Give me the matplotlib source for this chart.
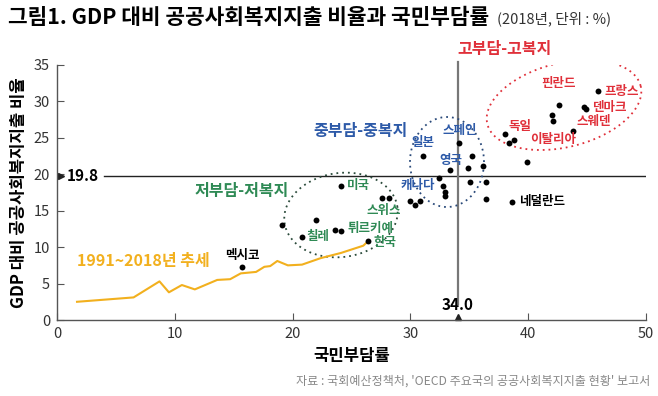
import numpy as np
import matplotlib
matplotlib.use("Agg")
import matplotlib.pyplot as plt

plt.rcParams['font.family'] = ['Noto Sans CJK KR', 'DejaVu Sans']

# 국민부담률(x), GDP 대비 공공사회복지지출(y)
burden = [45.9, 44.7, 44.9, 42.6, 42.0, 42.1, 43.8, 38.0, 38.4, 38.8, 39.9,
          34.1, 31.1, 35.2, 34.9, 36.2, 33.4, 32.4, 32.8, 32.9, 32.9, 35.1, 36.4, 36.4, 38.6,
          30.0, 30.4, 30.8,
          24.1, 27.6, 28.2, 19.1, 22.0, 20.8, 23.6, 24.1, 26.4, 15.7]
welfare = [31.4, 29.2, 29.0, 29.5, 28.1, 27.3, 25.9, 25.5, 24.3, 24.7, 21.7,
           24.3, 22.5, 22.5, 20.9, 21.1, 20.6, 19.5, 18.4, 17.6, 17.0, 18.9, 18.9, 16.6, 16.2,
           16.3, 15.8, 16.3,
           18.4, 16.7, 16.8, 13.0, 13.7, 11.4, 12.3, 12.2, 10.8, 7.3]

# 한국 1991~2018년 추세
trend_x = [1.7, 6.5, 7.7, 8.7, 9.5, 10.6, 11.7, 13.6, 14.7, 15.6, 16.9, 17.6, 18.1,
           18.7, 19.6, 20.8, 22.4, 24.1, 26.0, 26.4]
trend_y = [2.5, 3.1, 4.3, 5.3, 3.8, 4.8, 4.2, 5.5, 5.6, 6.4, 6.6, 7.3, 7.4,
           8.1, 7.5, 7.6, 8.5, 9.2, 10.2, 10.8]

oecd_welfare = 19.8
oecd_burden = 34.0

red = '#e0303a'
blue = '#2d5aa8'
green = '#2f8a55'
orange = '#f2b01e'

W, H = 658, 396
fig = plt.figure(figsize=(W / 100, H / 100), dpi=100)
ax_l, ax_r, ax_t, ax_b = 57, 646, 65, 320
ax = fig.add_axes([ax_l / W, 1 - ax_b / H, (ax_r - ax_l) / W, (ax_b - ax_t) / H])
ax.set_xlim(0, 50)
ax.set_ylim(0, 35)
px_x = (ax_r - ax_l) / 50
px_y = (ax_b - ax_t) / 35

for s in ['top', 'right']:
    ax.spines[s].set_visible(False)
for s in ['left', 'bottom']:
    ax.spines[s].set_color('#555555')
    ax.spines[s].set_linewidth(1)
ax.set_xticks(range(0, 51, 10))
ax.set_yticks(range(0, 36, 5))
ax.tick_params(direction='in', length=5, color='#555555', labelsize=10.5, labelcolor='#333333', pad=5)

# 기준선
ax.plot([4.0, 50], [oecd_welfare] * 2, color='#222222', lw=1, zorder=1)
ax.plot([oecd_burden] * 2, [2.2, 35.4], color='#777777', lw=1.6, zorder=1, clip_on=False)
ax.plot(0.35, oecd_welfare, marker='>', color='#222222', ms=4, clip_on=False)
ax.text(0.8, oecd_welfare, '19.8', fontsize=11, fontweight='bold', va='center', ha='left')
ax.plot(oecd_burden, 0.35, marker='^', color='#222222', ms=4, clip_on=False)
ax.text(oecd_burden, 0.9, '34.0', fontsize=11, fontweight='bold', va='bottom', ha='center')


def ellipse(cx, cy, a, b, ang, color):
    t = np.linspace(0, 2 * np.pi, 300)
    r = np.deg2rad(ang)
    dx = a * np.cos(t) * np.cos(r) - b * np.sin(t) * np.sin(r)
    dy = a * np.cos(t) * np.sin(r) + b * np.sin(t) * np.cos(r)
    xs = (cx + dx - ax_l) / px_x
    ys = (ax_b - (cy - dy)) / px_y
    ax.plot(xs, ys, color=color, lw=1.3, ls=(0, (1, 2.2)), zorder=1)


ellipse(564, 105, 79, 42, 14, red)
ellipse(447, 162, 37, 45, 0, '#2a4a7a')
ellipse(341, 215, 57, 42, 8, '#2a4a3a')

ax.plot(trend_x, trend_y, color=orange, lw=1.5, zorder=2)
ax.scatter(burden, welfare, s=18, color='black', zorder=3, linewidths=0)

labels = [
    ('프랑스', 46.5, 31.4, 'left', red), ('핀란드', 42.6, 32.4, 'center', red),
    ('덴마크', 45.4, 29.2, 'left', red), ('스웨덴', 44.1, 27.3, 'left', red),
    ('독일', 38.3, 26.5, 'left', red), ('이탈리아', 40.2, 24.8, 'left', red),
    ('일본', 31.1, 24.4, 'center', blue), ('스페인', 34.2, 26.0, 'center', blue),
    ('영국', 33.4, 21.9, 'center', blue), ('캐나다', 30.6, 18.5, 'center', blue),
    ('미국', 24.6, 18.4, 'left', green), ('스위스', 27.7, 15.0, 'center', green),
    ('칠레', 21.2, 11.4, 'left', green), ('튀르키예', 24.7, 12.5, 'left', green),
    ('한국', 26.9, 10.7, 'left', green),
    ('멕시코', 15.7, 8.9, 'center', 'black'), ('네덜란드', 39.2, 16.2, 'left', 'black'),
]
for txt, x, y, ha, c in labels:
    ax.text(x, y, txt, color=c, fontsize=9, fontweight='bold', ha=ha, va='center')

ax.text(34.0, 37.2, '고부담-고복지', color=red, fontsize=11.5, fontweight='bold', ha='left', va='center', clip_on=False)
ax.text(21.8, 25.9, '중부담-중복지', color=blue, fontsize=11.5, fontweight='bold', ha='left', va='center')
ax.text(11.7, 17.7, '저부담-저복지', color=green, fontsize=11.5, fontweight='bold', ha='left', va='center')
ax.text(1.7, 8.1, '1991~2018년 추세', color=orange, fontsize=11.5, fontweight='bold', ha='left', va='center')

ax.set_xlabel('국민부담률', fontsize=12, fontweight='bold', labelpad=4)
ax.set_ylabel('GDP 대비 공공사회복지지출 비율', fontsize=12, fontweight='bold', labelpad=4)

fig.text(8 / W, 1 - 18 / H, '그림1. GDP 대비 공공사회복지지출 비율과 국민부담률', fontsize=15.4,
         fontweight='bold', va='center', ha='left')
fig.text(497 / W, 1 - 19 / H, '(2018년, 단위 : %)', fontsize=10.5, va='center', ha='left', color='#333333')
fig.text(650 / W, 1 - 381 / H, "자료 : 국회예산정책처, 'OECD 주요국의 공공사회복지지출 현황' 보고서",
         fontsize=8.7, color='#888888', ha='right', va='center')

fig.savefig('out.png', dpi=100)
